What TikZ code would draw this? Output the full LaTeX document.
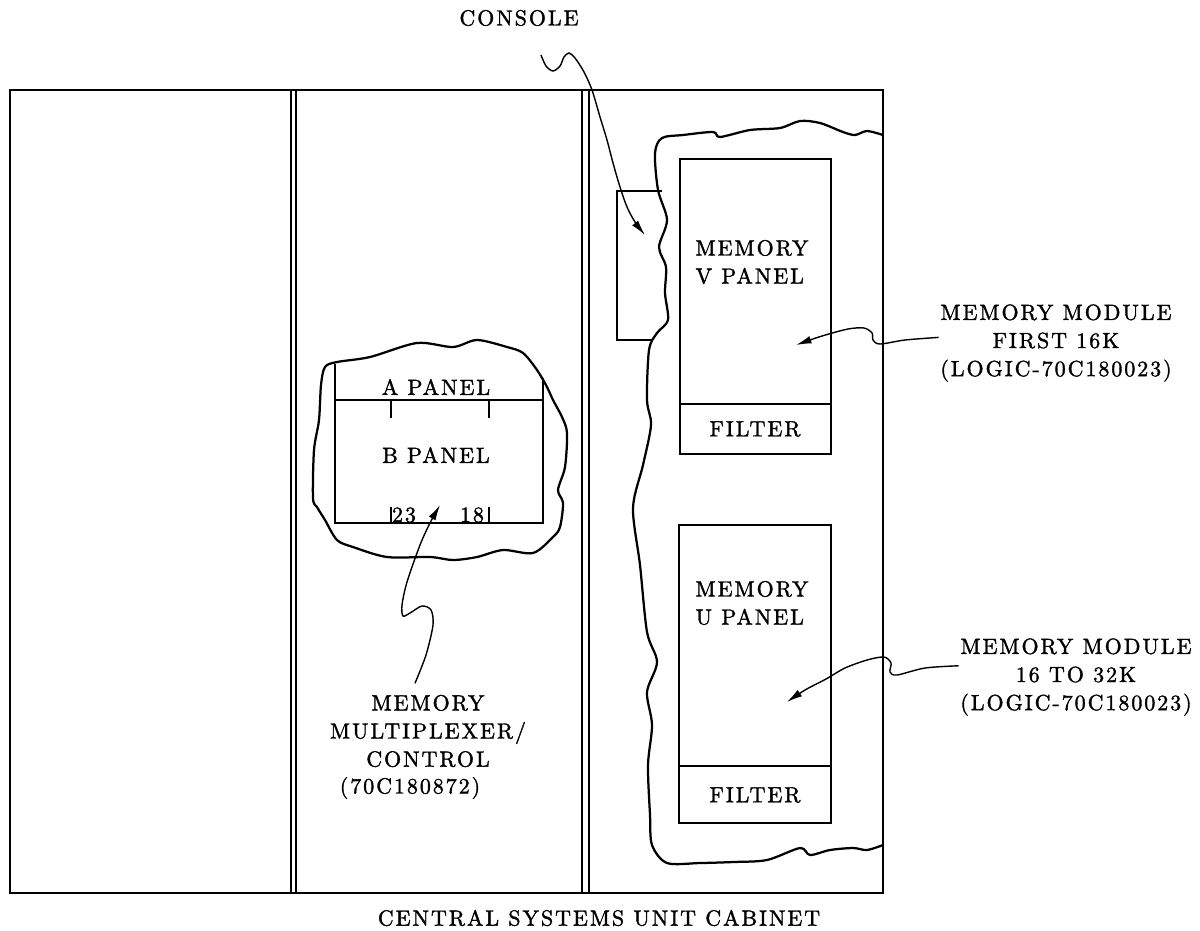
\documentclass[tikz,border=0pt]{standalone}
\usepackage{fontspec}
\setmainfont{lmroman10-regular.otf}[LetterSpace=9, FakeBold=1.5]
\usepackage{tikz}
\usetikzlibrary{arrows.meta,positioning}
\tikzset{
  cabinet/.style={line width=1.3pt},
  wall/.style={line width=0.9pt},
  panel/.style={line width=1.4pt},
  cutaway/.style={line width=1.6pt, line join=round},
  pointer/.style={line width=1pt, -{Latex[length=11pt,width=5.5pt]}},
  lbl/.style={font=\fontsize{15.6}{20}\selectfont, inner sep=1pt, align=center}
}

\begin{document}
\begin{tikzpicture}[x=0.025cm, y=-0.025cm]
\useasboundingbox (0,0) rectangle (1200,930);

\draw[cabinet] (10,90) rectangle (883,893);
\draw[wall] (291,90) -- (291,893) (296,90) -- (296,893);
\draw[wall] (582,90) -- (582,893) (589,90) -- (589,893);

\draw[cutaway] plot[smooth cycle] coordinates {(325,367) (337,362) (370,357) (417,343) (453,347) (477,340) (507,347) (523,353) (537,370) (547,387) (553,400) (562,417) (567,433) (565,467) (558,490) (563,503) (560,527) (553,537) (533,553) (503,550) (477,557) (453,560) (430,557) (387,557) (353,547) (337,540) (325,520) (317,507) (313,498) (314,450) (319,420) (321,385)};
\draw[panel] (335,364) -- (335,523) -- (543,523) -- (543,378);
\draw[panel] (335,400) -- (543,400);
\foreach \x in {391,489}
  \draw[line width=1.2pt] (\x,400) -- (\x,418) (\x,507) -- (\x,523);

\draw[cutaway] plot[smooth] coordinates {(883,135) (867,131) (855,135) (843,132) (820,123) (800,121) (780,128) (750,130) (720,137) (713,132) (683,135) (662,138) (655,153) (658,190) (667,220) (659,247) (666,267) (665,293) (668,320) (657,333) (649,350) (647,400) (651,425) (643,465) (633,508) (640,565) (647,632) (657,662) (647,692) (652,725) (648,765) (650,815) (652,845) (667,863) (700,863) (733,862) (767,860) (800,848) (810,855) (830,850) (853,848) (867,850) (883,845)};
\draw[panel] (662,191) -- (617,191) -- (617,340) -- (653,340);
\draw[panel] (680,159) rectangle (831,454);
\draw[panel] (680,404) -- (831,404);
\draw[panel] (679,525) rectangle (831,823);
\draw[panel] (679,766) -- (831,766);

\node[lbl] (consolelbl) at (519,18) {CONSOLE};
\node[lbl] (cabinetlbl) at (599,918) {CENTRAL SYSTEMS UNIT CABINET};
\node[lbl] (apanel) at (436,387) {A PANEL};
\node[lbl] (bpanel) at (436,455) {B PANEL};
\node[lbl] (pin23) at (404,515) {23};
\node[lbl] (pin18) at (472,515) {18};
\node[lbl, align=left] (vpanel) at (752,262) {MEMORY\\V PANEL};
\node[lbl] (vfilter) at (755,429) {FILTER};
\node[lbl, align=left] (upanel) at (752,603) {MEMORY\\U PANEL};
\node[lbl] (ufilter) at (755,795) {FILTER};
\node[lbl] (muxlbl) at (428,731) {MEMORY\\MULTIPLEXER/\\CONTROL};
\node[lbl] (muxnum) at (410,788) {(70C180872)};
\node[lbl] (mod1) at (1056,343) {MEMORY MODULE\\FIRST 16K\\(LOGIC-70C180023)};
\node[lbl] (mod2) at (1076,677) {MEMORY MODULE\\16 TO 32K\\(LOGIC-70C180023)};

\coordinate (consolestart) at (541,55);
\coordinate (consoletip) at (645,235);
\coordinate (muxtip) at (440,505);
\coordinate (vtip) at (796,345);
\coordinate (utip) at (787,702);

\draw[pointer] plot[smooth] coordinates {(consolestart) (546,66) (553,71) (560,66) (564,57) (569,53) (575,58) (584,72) (592,90) (600,117) (607,140) (613,163) (620,187) (627,207) (635,222) (consoletip)};
\draw[pointer] plot[smooth] coordinates {([shift={(-13,-10)}]muxlbl.north) (426,655) (433,625) (431,610) (422,606) (410,613) (403,616) (402,605) (407,582) (420,545) (430,523) (muxtip)};
\draw[pointer] plot[smooth] coordinates {([yshift=4pt]mod1.west) (905,340) (880,344) (873,340) (872,333) (864,328) (848,329) (822,336) (vtip)};
\draw[pointer] plot[smooth] coordinates {([yshift=8pt]mod2.west) (925,668) (897,675) (890,672) (891,663) (884,657) (867,660) (845,668) (826,679) (805,690) (utip)};
\end{tikzpicture}
\end{document}
